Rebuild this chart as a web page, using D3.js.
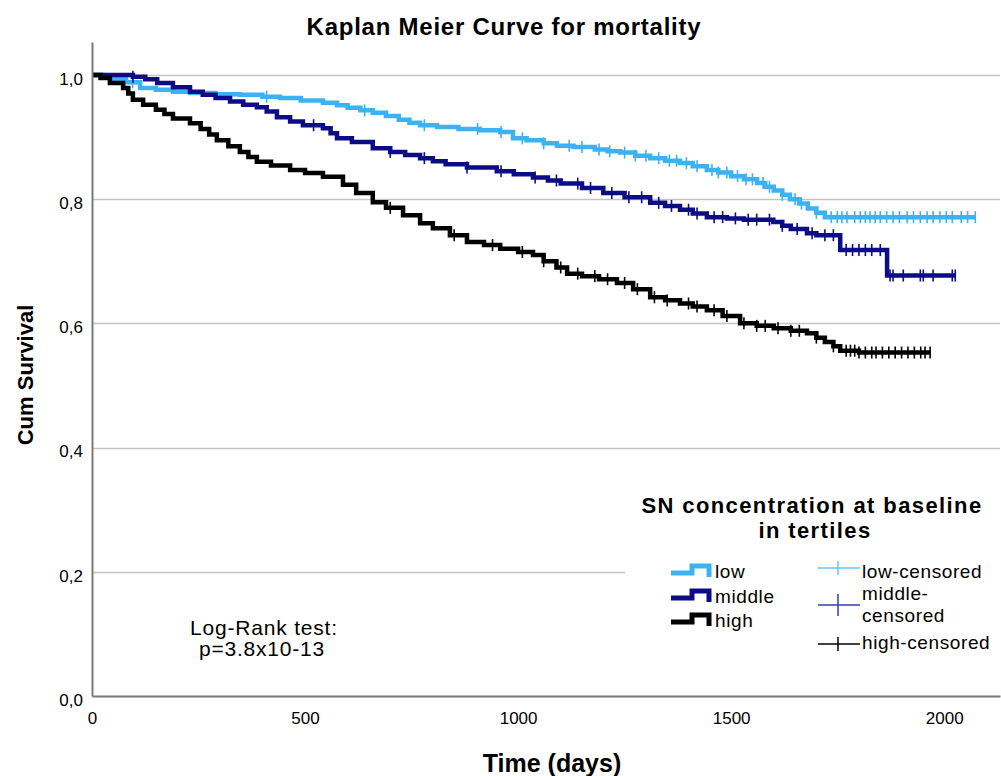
<!DOCTYPE html>
<html>
<head>
<meta charset="utf-8">
<script src="https://cdn.jsdelivr.net/npm/d3@7"></script>
<style>
body { margin: 0; background: #fff; }
text { font-family: "Liberation Sans", Arial, sans-serif; fill: #000; }
</style>
</head>
<body>
<svg width="1001" height="776"></svg>
<script>
// step points [day, cumulative survival]
var lowSteps = [[0,1],[25,0.997],[50,0.993],[80,0.988],[113,0.979],[150,0.976],[190,0.973],[230,0.971],
    [290,0.969],[347,0.968],[400,0.965],[441,0.963],[490,0.959],[542,0.955],[575,0.951],[600,0.947],
    [630,0.943],[659,0.939],[690,0.934],[720,0.928],[745,0.923],[770,0.919],[810,0.916],[860,0.913],
    [910,0.911],[958,0.908],[988,0.898],[1020,0.895],[1060,0.89],[1091,0.886],[1130,0.884],[1180,0.88],
    [1210,0.877],[1240,0.875],[1275,0.87],[1310,0.866],[1345,0.862],[1380,0.858],[1410,0.853],
    [1443,0.847],[1470,0.843],[1500,0.837],[1530,0.832],[1561,0.826],[1580,0.82],[1600,0.814],
    [1620,0.807],[1638,0.8],[1660,0.793],[1680,0.785],[1700,0.778],[1720,0.771]];
var middleSteps = [[0,1],[96,0.997],[125,0.993],[153,0.987],[190,0.98],[230,0.973],[260,0.968],
    [290,0.963],[324,0.957],[355,0.952],[387,0.948],[410,0.941],[434,0.932],[465,0.925],[495,0.919],
    [542,0.914],[560,0.906],[575,0.898],[610,0.892],[659,0.882],[700,0.876],[735,0.871],[770,0.866],
    [800,0.861],[830,0.856],[880,0.851],[950,0.845],[990,0.84],[1035,0.835],[1070,0.83],[1100,0.825],
    [1150,0.818],[1200,0.81],[1250,0.803],[1310,0.794],[1345,0.789],[1380,0.783],[1410,0.777],
    [1443,0.771],[1490,0.769],[1530,0.767],[1599,0.763],[1620,0.757],[1640,0.752],[1678,0.745],
    [1700,0.742],[1756,0.718],[1866,0.677]];
var highSteps = [[0,1],[20,0.995],[42,0.987],[73,0.979],[85,0.97],[96,0.96],[120,0.952],[150,0.944],
    [170,0.937],[190,0.93],[230,0.922],[255,0.913],[275,0.904],[293,0.895],[320,0.885],[347,0.876],
    [367,0.868],[387,0.86],[420,0.854],[465,0.847],[500,0.842],[542,0.836],[589,0.823],[620,0.81],
    [659,0.795],[690,0.786],[730,0.774],[770,0.761],[800,0.753],[840,0.742],[880,0.731],[920,0.726],
    [958,0.72],[1000,0.715],[1035,0.71],[1060,0.7],[1090,0.69],[1115,0.68],[1150,0.676],[1190,0.671],
    [1232,0.665],[1270,0.655],[1310,0.642],[1345,0.637],[1380,0.632],[1410,0.627],[1443,0.621],
    [1480,0.612],[1521,0.6],[1560,0.596],[1600,0.592],[1640,0.588],[1678,0.584],[1700,0.577],
    [1720,0.57],[1740,0.563],[1756,0.556],[1800,0.553]];

// censored times (days)
var lowCensored = [95,410,640,780,905,960,1010,1060,1120,1150,1190,1215,1250,1275,1300,1330,1355,1372,
    1395,1420,1455,1470,1490,1515,1535,1550,1575,1590,1620,1650,1665,1700,1735,1749,1760,1772,1790,1803,
    1815,1826,1838,1850,1865,1880,1895,1913,1928,1944,1960,1974,1990,2005,2019,2040,2055,2073];
var middleCensored = [96,520,700,780,880,960,1040,1090,1140,1170,1220,1260,1290,1330,1360,1400,1420,1460,
    1480,1510,1540,1560,1590,1620,1655,1690,1720,1740,1770,1785,1800,1815,1830,1850,1873,1880,1904,1944,
    1951,1974,2019,2026];
var highCensored = [700,850,940,1010,1060,1100,1140,1180,1210,1250,1280,1320,1350,1400,1420,1460,1490,
    1530,1560,1580,1610,1640,1660,1700,1740,1770,1780,1790,1800,1815,1830,1840,1855,1870,1885,1900,1915,
    1930,1945,1955,1967];

var groups = ["low", "middle", "high"];
var censoredLabels = [["low-censored"], ["middle-", "censored"], ["high-censored"]];
var xTicks = [0, 500, 1000, 1500, 2000];
var yTicks = [0, 0.2, 0.4, 0.6, 0.8, 1.0];

var steps = {low: lowSteps, middle: middleSteps, high: highSteps};
var censored = {low: lowCensored, middle: middleCensored, high: highCensored};
var colors = {low: "#3cb2f3", middle: "#0c0c86", high: "#000000"};
var censorColors = {low: "#68c4f4", middle: "#3838b4", high: "#000000"};

var svg = d3.select("svg");

var x = d3.scaleLinear().domain([0, 2131]).range([92, 1000]),
    y = d3.scaleLinear().domain([0, 1.053]).range([696, 42]);

var bisect = d3.bisector(function(d) { return d[0]; }).right;
function survAt(g, t) {
  var s = steps[g];
  return s[Math.max(0, bisect(s, t) - 1)][1];
}

svg.append("rect").attr("width", 1001).attr("height", 776).attr("fill", "#fff");

// grid
svg.append("g").selectAll("line")
    .data(yTicks.filter(function(d) { return d > 0; }))
    .enter().append("line")
    .attr("x1", x(0)).attr("x2", x.range()[1])
    .attr("y1", function(d) { return Math.round(y(d)) + 0.5; })
    .attr("y2", function(d) { return Math.round(y(d)) + 0.5; })
    .attr("stroke", "#c4c4c4")
    .attr("stroke-width", 1.5);

// curves
var line = d3.line()
    .curve(d3.curveStepAfter)
    .x(function(d) { return x(d[0]); })
    .y(function(d) { return y(d[1]); });

groups.forEach(function(g) {
  var c = censored[g];
  var pts = steps[g].concat([[c[c.length - 1], steps[g][steps[g].length - 1][1]]]);
  svg.append("path")
      .attr("d", line(pts))
      .attr("fill", "none")
      .attr("stroke", colors[g])
      .attr("stroke-width", 4.5);
  svg.append("g").selectAll("line")
      .data(c)
      .enter().append("line")
      .attr("x1", function(d) { return x(d); })
      .attr("x2", function(d) { return x(d); })
      .attr("y1", function(d) { return y(survAt(g, d)) - 6; })
      .attr("y2", function(d) { return y(survAt(g, d)) + 6; })
      .attr("stroke", colors[g])
      .attr("stroke-width", 1.6);
});

// axes
var xAxis = d3.axisBottom(x).tickValues(xTicks).tickSize(0).tickSizeOuter(0).tickPadding(16)
    .tickFormat(d3.format("d"));
var yAxis = d3.axisLeft(y).tickValues(yTicks).tickSize(0).tickSizeOuter(0).tickPadding(9)
    .tickFormat(function(d) { return d3.format(".1f")(d).replace(".", ","); });

var gx = svg.append("g").attr("transform", "translate(0," + y(0) + ")").call(xAxis);
var gy = svg.append("g").attr("transform", "translate(" + x(0) + ",0)").call(yAxis);
[gx, gy].forEach(function(g) {
  g.select(".domain").attr("stroke", "#7a7a7a").attr("stroke-width", 2);
  g.selectAll("text").style("font-size", "17px").style("font-family", "'Liberation Sans', Arial, sans-serif")
      .attr("fill", "#000");
});
gy.selectAll("text").attr("dy", "0.55em");

// legend
var legend = svg.append("g");
legend.append("rect")
    .attr("x", 625).attr("y", 470).attr("width", 376).attr("height", 220)
    .attr("fill", "#fff");
legend.append("text")
    .attr("x", 812).attr("y", 513)
    .attr("text-anchor", "middle")
    .style("font-size", "22px").style("font-weight", "bold").style("letter-spacing", "1.4px")
    .text("SN concentration at baseline");
legend.append("text")
    .attr("x", 815).attr("y", 538)
    .attr("text-anchor", "middle")
    .style("font-size", "22px").style("font-weight", "bold").style("letter-spacing", "1.4px")
    .text("in tertiles");

var rows = [566, 591, 615];
groups.forEach(function(g, i) {
  legend.append("path")
      .attr("transform", "translate(671," + rows[i] + ")")
      .attr("d", "M0,7H21V0H38V11")
      .attr("fill", "none")
      .attr("stroke", colors[g])
      .attr("stroke-width", 5);
  legend.append("text")
      .attr("x", 715).attr("y", rows[i] + 12)
      .style("font-size", "19px").style("letter-spacing", "0.6px")
      .text(g);
});

var crossY = [568, 605, 644],
    crossH = [7, 11, 7],
    labelY = [[578], [600, 622], [649]];
groups.forEach(function(g, i) {
  legend.append("line")
      .attr("x1", 818).attr("x2", 860)
      .attr("y1", crossY[i]).attr("y2", crossY[i])
      .attr("stroke", censorColors[g]).attr("stroke-width", 1.5);
  legend.append("line")
      .attr("x1", 838).attr("x2", 838)
      .attr("y1", crossY[i] - crossH[i]).attr("y2", crossY[i] + crossH[i])
      .attr("stroke", censorColors[g]).attr("stroke-width", 1.5);
  censoredLabels[i].forEach(function(t, j) {
    legend.append("text")
        .attr("x", 862).attr("y", labelY[i][j])
        .style("font-size", "19px").style("letter-spacing", "0.6px")
        .text(t);
  });
});

// titles
svg.append("text")
    .attr("x", 504).attr("y", 35)
    .attr("text-anchor", "middle")
    .style("font-size", "24px").style("font-weight", "bold").style("letter-spacing", "0.75px")
    .text("Kaplan Meier Curve for mortality");

svg.append("text")
    .attr("transform", "translate(33,375)rotate(-90)")
    .attr("text-anchor", "middle")
    .style("font-size", "22px").style("font-weight", "bold")
    .text("Cum Survival");

svg.append("text")
    .attr("x", 552).attr("y", 772)
    .attr("text-anchor", "middle")
    .style("font-size", "25px").style("font-weight", "bold")
    .text("Time (days)");

svg.append("text")
    .attr("x", 264).attr("y", 635)
    .attr("text-anchor", "middle")
    .style("font-size", "21px").style("letter-spacing", "0.8px")
    .text("Log-Rank test:");
svg.append("text")
    .attr("x", 262).attr("y", 656)
    .attr("text-anchor", "middle")
    .style("font-size", "21px").style("letter-spacing", "0.8px")
    .text("p=3.8x10-13");
</script>
</body>
</html>
